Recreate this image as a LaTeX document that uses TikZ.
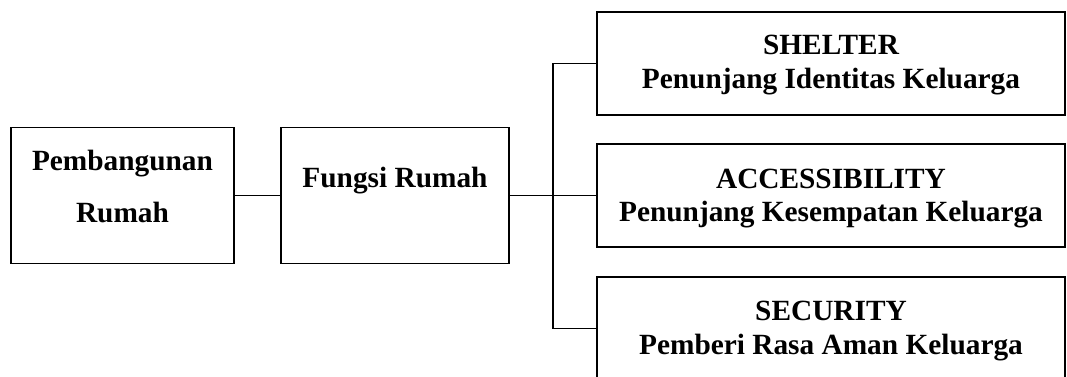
\documentclass[tikz,border=0pt]{standalone}
\usepackage{fontspec}
\setmainfont{Liberation Serif}
\begin{document}
\begin{tikzpicture}[x=0.75pt,y=-0.75pt,
  box/.style={draw=black,line width=1.1pt,rectangle,inner sep=0pt,outer sep=0pt},
  lbl/.style={inner sep=0pt,anchor=base,font=\bfseries\fontsize{22}{26}\selectfont},
  link/.style={draw=black,line width=1.1pt}]
\clip (0,0) rectangle (1067,376);
\fill[white] (0,0) rectangle (1067,376);
% boxes
\node[box,minimum width=167.25pt,minimum height=102pt] (b1) at (122.5,195.5) {};
\node[box,minimum width=171pt,minimum height=102pt] (b2) at (395,195.5) {};
\node[box,minimum width=351pt,minimum height=77.25pt] (r1) at (831,63.5) {};
\node[box,minimum width=351pt,minimum height=77.25pt] (r2) at (831,195.5) {};
\node[box,minimum width=351pt,minimum height=77.25pt] (r3) at (831,328.5) {};
% texts
\node[lbl] (t1a) at (122.5,170) {Pembangunan};
\node[lbl] (t1b) at (122.5,222) {Rumah};
\node[lbl] (t2) at (395,187) {Fungsi Rumah};
\node[lbl] (t3a) at (831,54) {SHELTER};
\node[lbl] (t3b) at (831,88) {Penunjang Identitas Keluarga};
\node[lbl] (t4a) at (831,188) {ACCESSIBILITY};
\node[lbl] (t4b) at (831,221) {Penunjang Kesempatan Keluarga};
\node[lbl] (t5a) at (831,320) {SECURITY};
\node[lbl] (t5b) at (831,354) {Pemberi Rasa Aman Keluarga};
% connectors
\coordinate (j) at (553,195.5);
\draw[link] (b1.east) -- (b2.west);
\draw[link] (b2.east) -- (j);
\draw[link] (r1.west) -| (j) |- (r3.west);
\draw[link] (j) -- (r2.west);
\end{tikzpicture}
\end{document}
